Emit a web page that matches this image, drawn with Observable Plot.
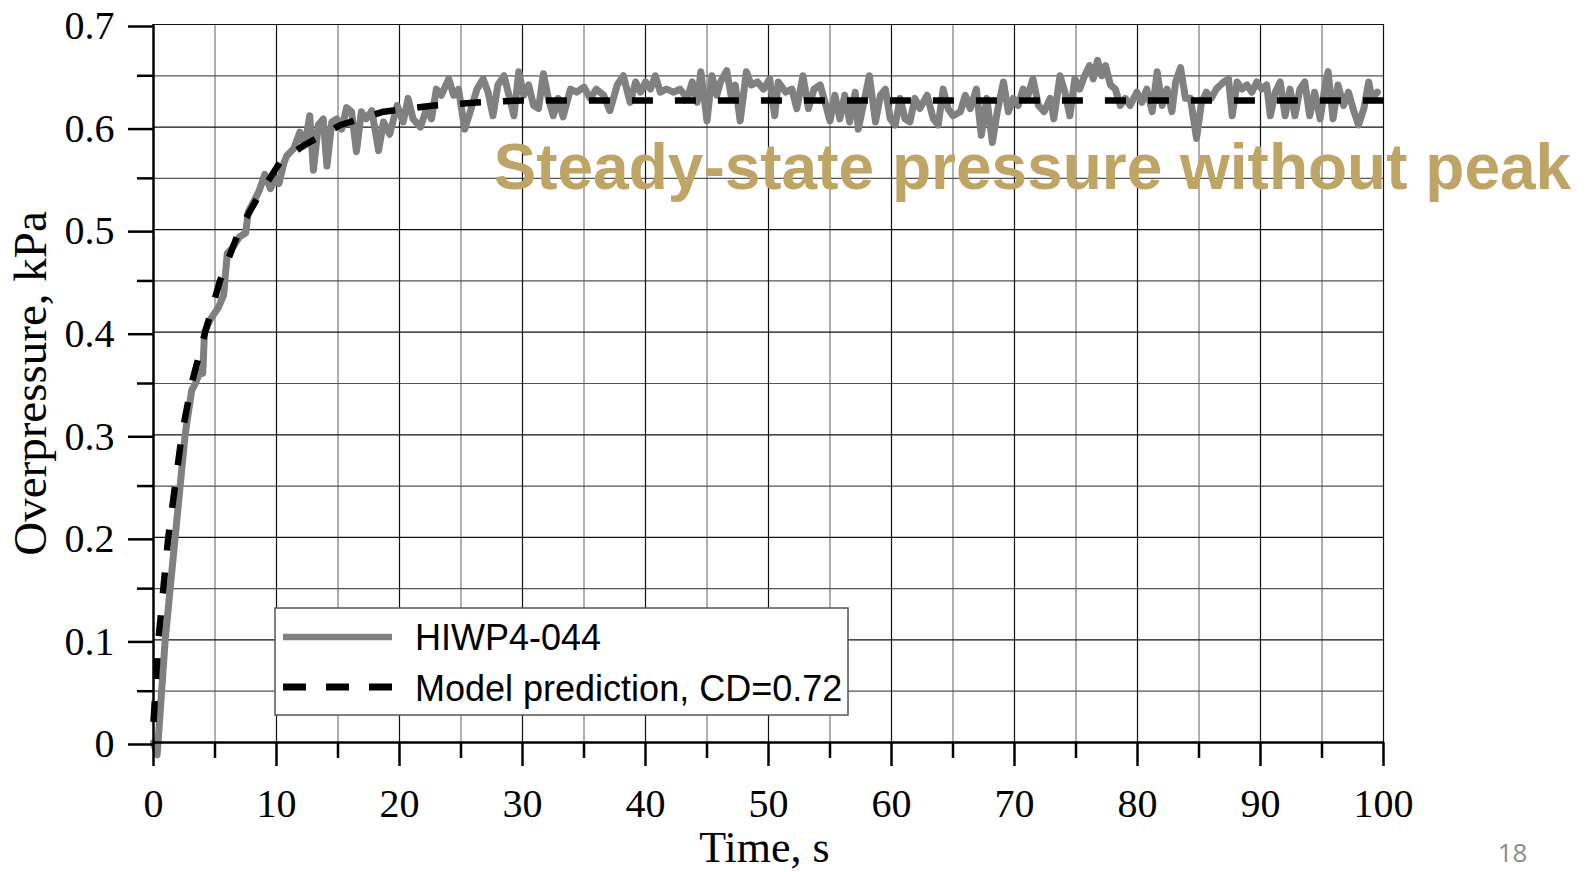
<!DOCTYPE html>
<html>
<head>
<meta charset="utf-8">
<script src="https://cdn.jsdelivr.net/npm/d3@7"></script>
<script src="https://cdn.jsdelivr.net/npm/@observablehq/plot@0.6"></script>
<style>
  html, body { margin: 0; padding: 0; background: #fff; }
  #chart { position: relative; width: 1587px; height: 872px; }
</style>
</head>
<body>
<div id="chart"></div>
<script>
// ---- Data ----
const hiwpTime = [
  0, 0.3, 0.95, 1.76, 2.57, 3.1, 3.4, 3.8, 4.0, 4.15, 4.6, 5.27, 5.7, 6.0, 6.35, 7.0, 7.5, 7.7, 8.6, 9.05,
  9.5, 9.9, 10.2, 10.6, 10.84, 11.4, 11.9, 12.3, 12.7, 13.0, 13.4, 13.8, 14.1, 14.5, 14.9, 15.3, 15.7, 16.1, 16.5, 16.9,
  17.3, 17.75, 18.3, 18.7, 19.2, 19.8, 20.3, 20.7, 21.1, 21.7, 22.2, 22.6, 23.0, 23.4, 24.0, 24.4, 24.8, 25.3, 25.75, 26.3,
  26.8, 27.2, 27.6, 28.0, 28.5, 28.9, 29.3, 29.7, 30.1, 30.5, 30.9, 31.3, 31.7, 32.1, 32.5, 32.9, 33.3, 33.9, 34.4, 35.0,
  35.5, 36.0, 36.6, 37.1, 37.7, 38.2, 38.75, 39.2, 39.6, 40.0, 40.4, 40.8, 41.2, 41.7, 42.3, 42.8, 43.4, 43.8, 44.2, 44.5,
  45.0, 45.4, 45.8, 46.1, 46.6, 47.0, 47.3, 47.7, 48.2, 48.6, 49.1, 49.6, 50.1, 50.5, 50.8, 51.4, 51.9, 52.3, 52.8, 53.25,
  53.7, 54.2, 54.6, 55.0, 55.4, 55.8, 56.2, 56.6, 57.05, 57.3, 57.7, 58.2, 58.7, 59.1, 59.5, 59.9, 60.3, 60.7, 61.1, 61.5,
  61.9, 62.3, 62.9, 63.4, 63.8, 64.2, 64.6, 65.0, 65.6, 66.0, 66.4, 66.9, 67.3, 67.75, 68.2, 68.6, 69.1, 69.5, 69.9, 70.3,
  70.7, 71.1, 71.5, 71.95, 72.4, 72.9, 73.2, 73.7, 74.1, 74.5, 74.9, 75.3, 75.7, 76.1, 76.4, 76.75, 77.1, 77.4, 77.8, 78.2,
  78.6, 79.0, 79.4, 79.95, 80.35, 80.75, 81.2, 81.6, 82.0, 82.4, 82.8, 83.1, 83.5, 83.9, 84.3, 84.8, 85.2, 85.6, 86.0, 86.4,
  87.0, 87.4, 87.7, 88.1, 88.5, 88.9, 89.3, 89.7, 90.1, 90.5, 90.8, 91.2, 91.6, 92.0, 92.4, 92.8, 93.2, 93.6, 94.0, 94.4,
  94.85, 95.3, 95.5, 95.9, 96.3, 96.75, 97.15, 97.6, 97.97, 98.4, 98.8, 99.05, 99.5
];
const hiwpPressure = [
  0.0, -0.012, 0.1, 0.2, 0.3, 0.343, 0.35, 0.362, 0.36, 0.40, 0.412, 0.424, 0.436, 0.477, 0.481, 0.493, 0.497, 0.517, 0.538, 0.554,
  0.54, 0.55, 0.545, 0.565, 0.572, 0.579, 0.595, 0.582, 0.611, 0.558, 0.602, 0.608, 0.562, 0.605, 0.608, 0.598, 0.619, 0.615, 0.576, 0.615,
  0.608, 0.616, 0.577, 0.605, 0.593, 0.621, 0.605, 0.628, 0.608, 0.600, 0.618, 0.608, 0.637, 0.631, 0.647, 0.631, 0.637, 0.598, 0.615, 0.637,
  0.647, 0.634, 0.611, 0.641, 0.650, 0.631, 0.611, 0.654, 0.631, 0.641, 0.621, 0.618, 0.652, 0.628, 0.611, 0.628, 0.610, 0.637, 0.634, 0.639,
  0.628, 0.637, 0.631, 0.616, 0.641, 0.650, 0.624, 0.644, 0.634, 0.644, 0.637, 0.650, 0.634, 0.637, 0.634, 0.637, 0.628, 0.644, 0.624, 0.654,
  0.606, 0.650, 0.631, 0.644, 0.655, 0.628, 0.641, 0.606, 0.654, 0.641, 0.644, 0.637, 0.647, 0.611, 0.644, 0.634, 0.637, 0.618, 0.650, 0.618,
  0.637, 0.641, 0.624, 0.606, 0.631, 0.608, 0.631, 0.605, 0.634, 0.598, 0.621, 0.650, 0.605, 0.631, 0.637, 0.608, 0.602, 0.628, 0.608, 0.605,
  0.628, 0.618, 0.631, 0.608, 0.602, 0.637, 0.618, 0.611, 0.615, 0.631, 0.618, 0.637, 0.592, 0.628, 0.585, 0.615, 0.644, 0.615, 0.628, 0.621,
  0.637, 0.631, 0.647, 0.621, 0.615, 0.628, 0.608, 0.650, 0.634, 0.611, 0.647, 0.637, 0.650, 0.660, 0.647, 0.665, 0.650, 0.660, 0.641, 0.637,
  0.621, 0.628, 0.621, 0.634, 0.624, 0.637, 0.615, 0.654, 0.621, 0.637, 0.615, 0.644, 0.658, 0.628, 0.628, 0.589, 0.624, 0.634, 0.628, 0.637,
  0.644, 0.647, 0.611, 0.644, 0.637, 0.641, 0.634, 0.644, 0.637, 0.641, 0.611, 0.634, 0.644, 0.611, 0.637, 0.611, 0.637, 0.644, 0.611, 0.634,
  0.608, 0.644, 0.654, 0.608, 0.641, 0.621, 0.634, 0.615, 0.602, 0.618, 0.644, 0.628, 0.634
];
const modelTime = [0, 0.4, 1.2, 2.3, 3.1, 4.2, 5.4, 7.0, 8.5, 10.3, 12.2, 15.2, 18.7, 22.8, 26.3, 30, 40, 50, 60, 70, 80, 90, 100];
const modelPressure = [0.02, 0.1, 0.2, 0.3, 0.35, 0.4, 0.45, 0.5, 0.532, 0.566, 0.582, 0.602, 0.615, 0.621, 0.624, 0.626, 0.626, 0.626, 0.626, 0.626, 0.626, 0.626, 0.626];

const xTicks = [0, 10, 20, 30, 40, 50, 60, 70, 80, 90, 100];
const xMinorTicks = [5, 15, 25, 35, 45, 55, 65, 75, 85, 95];
const yTicks = [0, 0.1, 0.2, 0.3, 0.4, 0.5, 0.6, 0.7];
const yMinorTicks = [0.05, 0.15, 0.25, 0.35, 0.45, 0.55, 0.65];

const seriesNames = ["HIWP4-044", "Model prediction, CD=0.72"];
const xTitle = "Time, s";
const yTitle = "Overpressure, kPa";
const annotation = "Steady-state pressure without peak";
const pageNumber = "18";

// ---- Tables ----
const hiwp = hiwpTime.map((t, i) => ({t, v: hiwpPressure[i]}));
const model = modelTime.map((t, i) => ({t, v: modelPressure[i]}));

const serif = "'Liberation Serif', 'Times New Roman', serif";
const sans = "'Liberation Sans', Arial, sans-serif";

const chart = Plot.plot({
  width: 1587,
  height: 872,
  marginLeft: 153,
  marginRight: 204,
  marginTop: 24,
  marginBottom: 130,
  style: {fontFamily: serif, fontSize: "40px", background: "#fff", color: "#000", overflow: "visible"},
  x: {domain: [0, 100]},
  y: {domain: [0, 0.7]},
  marks: [
    Plot.ruleX(xMinorTicks, {stroke: "#7a7a7a", strokeWidth: 1.2}),
    Plot.ruleY(yMinorTicks, {stroke: "#555", strokeWidth: 1.2}),
    Plot.ruleX(xTicks.slice(1), {stroke: "#111", strokeWidth: 1.2}),
    Plot.ruleY(yTicks.slice(1), {stroke: "#111", strokeWidth: 1.2}),
    Plot.text([annotation], {
      text: d => d, frameAnchor: "top-left", dx: 340, dy: 144,
      textAnchor: "start", lineAnchor: "middle",
      fontFamily: sans, fontWeight: "bold", fontSize: 64, fill: "#BFA565"
    }),
    Plot.line(hiwp, {x: "t", y: "v", stroke: "#808080", strokeWidth: 7, strokeLinejoin: "round", strokeLinecap: "round"}),
    Plot.line(model, {x: "t", y: "v", stroke: "#000", strokeWidth: 6.5, strokeDasharray: "21,22", strokeLinecap: "butt"}),
    Plot.ruleY([0], {stroke: "#000", strokeWidth: 2.5}),
    Plot.ruleX([0], {stroke: "#000", strokeWidth: 2.5}),
    Plot.axisX(xTicks, {tickSize: 24, tickPadding: 22, strokeWidth: 2.5, fontSize: 40, fontFamily: serif, label: null, tickFormat: d => String(d)}),
    Plot.axisX(xMinorTicks, {tickSize: 16, strokeWidth: 2.5, label: null, tickFormat: () => ""}),
    Plot.axisY(yTicks, {tickSize: 25, tickPadding: 14, strokeWidth: 2.5, fontSize: 40, fontFamily: serif, label: null, dy: 2, tickFormat: d => String(d)}),
    Plot.axisY(yMinorTicks, {tickSize: 16, strokeWidth: 2.5, label: null, tickFormat: () => ""}),
    Plot.text([xTitle], {text: d => d, frameAnchor: "bottom", dx: -4, dy: 105, lineAnchor: "middle", fontSize: 44, fontFamily: serif, fill: "#000"}),
    Plot.text([yTitle], {text: d => d, frameAnchor: "left", dx: -123, rotate: -90, lineAnchor: "middle", textAnchor: "middle", fontSize: 47, fontFamily: serif, fill: "#000"}),
    Plot.text([pageNumber], {text: d => d, frameAnchor: "bottom-right", dx: 129, dy: 111, lineAnchor: "middle", textAnchor: "middle", fontSize: 26, fontFamily: "'Open Sans', sans-serif", fill: "#8c8c8c"})
  ]
});

document.getElementById("chart").appendChild(chart);

// ---- Legend (drawn on top of the plot) ----
const svg = d3.select(chart);
const lg = svg.append("g").attr("class", "legend").attr("text-anchor", "start");
lg.append("rect").attr("x", 275).attr("y", 608).attr("width", 573).attr("height", 107)
  .attr("fill", "#fff").attr("stroke", "#555").attr("stroke-width", 1.5);
lg.append("line").attr("x1", 283).attr("x2", 392).attr("y1", 637).attr("y2", 637)
  .attr("stroke", "#808080").attr("stroke-width", 6.5);
lg.append("line").attr("x1", 283).attr("x2", 392).attr("y1", 687).attr("y2", 687)
  .attr("stroke", "#000").attr("stroke-width", 7).attr("stroke-dasharray", "23,20");
lg.selectAll("text.lg").data(seriesNames).join("text")
  .attr("class", "lg")
  .attr("x", 415).attr("y", (d, i) => 650 + i * 51)
  .attr("text-anchor", "start")
  .attr("font-family", sans).attr("font-size", 36).attr("fill", "#000")
  .text(d => d);
</script>
</body>
</html>
